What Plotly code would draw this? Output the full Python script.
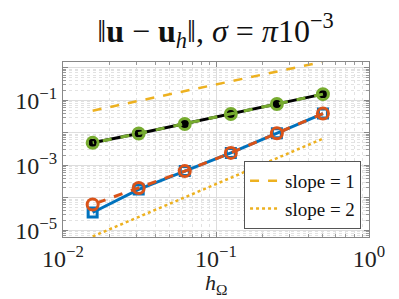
import plotly.graph_objects as go

h = [0.5, 0.25, 0.125, 0.0625, 0.03125, 0.015625]
err_black = [0.155, 0.077, 0.038, 0.0186, 0.0095, 0.0049]
err_green = [0.155, 0.077, 0.038, 0.0186, 0.0095, 0.0049]
err_blue = [0.039, 0.0096, 0.0024, 0.00066, 0.00018, 0.000035]
err_orange = [0.039, 0.0096, 0.0024, 0.00066, 0.0002, 0.000062]
slope1_x = [0.015625, 0.5]
slope1_y = [0.048, 1.54]
slope2_x = [0.015625, 0.5]
slope2_y = [0.0000064, 0.0066]

ytickvals = [1e-5, 1e-4, 1e-3, 1e-2, 1e-1, 1e0]
yticktext = ["10<sup>−5</sup>", "", "10<sup>−3</sup>", "", "10<sup>−1</sup>", ""]
xtickvals = [1e-2, 1e-1, 1e0]
xticktext = ["10<sup>−2</sup>", "10<sup>−1</sup>", "10<sup>0</sup>"]
minor_x = [m * 10.0 ** k for k in (-2, -1) for m in range(2, 10)]
minor_y = [m * 10.0 ** k for k in (-6, -5, -4, -3, -2, -1, 0) for m in range(2, 10)]

BLUE = "#0072BD"
ORANGE = "#D95319"
YELLOW = "#EDB120"
GREEN = "#77AC30"
FONT = "Liberation Serif"

fig = go.Figure()
fig.add_trace(go.Scatter(x=h, y=err_black, mode="lines+markers", showlegend=False,
                         line=dict(color="black", width=3),
                         marker=dict(symbol="square", size=8, color="black")))
fig.add_trace(go.Scatter(x=h, y=err_green, mode="lines+markers", showlegend=False,
                         line=dict(color=GREEN, width=3, dash="dash"),
                         marker=dict(symbol="circle-open", size=11, color=GREEN, line=dict(width=3, color=GREEN))))
fig.add_trace(go.Scatter(x=h, y=err_blue, mode="lines+markers", showlegend=False,
                         line=dict(color=BLUE, width=3),
                         marker=dict(symbol="square-open", size=9, color=BLUE, line=dict(width=3, color=BLUE))))
fig.add_trace(go.Scatter(x=h, y=err_orange, mode="lines+markers", showlegend=False,
                         line=dict(color=ORANGE, width=3, dash="dash"),
                         marker=dict(symbol="circle-open", size=11, color=ORANGE, line=dict(width=3, color=ORANGE))))
fig.add_trace(go.Scatter(x=slope1_x, y=slope1_y, mode="lines", name="slope = 1",
                         line=dict(color=YELLOW, width=2.5, dash="dash")))
fig.add_trace(go.Scatter(x=slope2_x, y=slope2_y, mode="lines", name="slope = 2",
                         line=dict(color=YELLOW, width=2.5, dash="dot")))

axis_common = dict(
    type="log", showline=True, linecolor="#888888", linewidth=1, mirror="ticks",
    ticks="inside", ticklen=5, tickcolor="#888888",
    showgrid=True, gridcolor="#dddddd", gridwidth=1,
    tickfont=dict(family=FONT, size=24, color="#222222"),
    zeroline=False, automargin=False,
)

fig.update_xaxes(**axis_common, range=[-2, 0], tickmode="array", tickvals=xtickvals, ticktext=xticktext,
                 minor=dict(tickmode="array", tickvals=minor_x, ticks="inside", ticklen=3, tickcolor="#999999",
                            showgrid=True, gridcolor="#e2e2e2", griddash="dot"))
fig.update_yaxes(**axis_common, range=[-5.21, 0.18], tickmode="array", tickvals=ytickvals, ticktext=yticktext,
                 minor=dict(tickmode="array", tickvals=minor_y, ticks="inside", ticklen=3, tickcolor="#999999",
                            showgrid=True, gridcolor="#e2e2e2", griddash="dot"))

fig.add_annotation(text="<i>h</i><sub>Ω</sub>", xref="paper", yref="paper", x=0.5, y=-0.268,
                   xanchor="center", yanchor="middle", showarrow=False,
                   font=dict(family=FONT, size=22, color="#222222"))

fig.update_layout(
    width=399, height=299,
    margin=dict(l=55, r=38, t=54, b=70),
    plot_bgcolor="white", paper_bgcolor="white",
    title=dict(text="‖<b>u</b> − <b>u</b><sub><i>h</i></sub>‖, <i>σ</i> = <i>π</i>10<sup>−3</sup>",
               x=0.52, xanchor="center", xref="container", yref="container", y=0.925, yanchor="middle",
               font=dict(family=FONT, size=32, color="#111111"), automargin=False),
    legend=dict(x=0.974, xanchor="right", y=0.046, yanchor="bottom",
                bgcolor="white", bordercolor="#555555", borderwidth=1,
                font=dict(family=FONT, size=19, color="#111111"),
                tracegroupgap=0, itemwidth=30),
    showlegend=True,
)

fig.write_html("out.html")
